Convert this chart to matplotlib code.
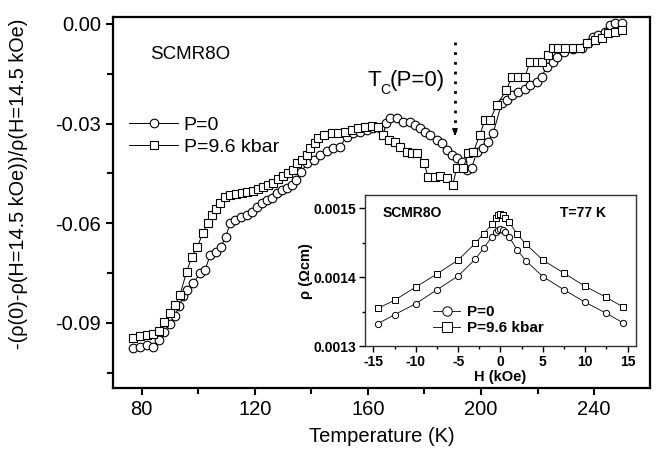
import matplotlib
matplotlib.use("Agg")
import matplotlib.pyplot as plt
from matplotlib.ticker import MultipleLocator

plt.rcParams['font.family'] = ['Liberation Sans', 'DejaVu Sans']
plt.rcParams['axes.unicode_minus'] = False

# main panel: magnetoresistance vs temperature
temp_p0 = [76.8, 79.4, 81.8, 83.9, 86.1, 87.9, 90.0, 91.6, 93.3, 94.6, 96.1, 98.2,
           100.6, 102.4, 104.2, 106.3, 107.9, 109.8, 111.2, 113.0, 115.0, 117.1,
           118.9, 120.7, 122.4, 124.2, 126.0, 127.7, 129.5, 131.3, 133.1, 134.5,
           136.3, 138.6, 140.8, 143.0, 145.4, 147.8, 150.1, 152.5, 154.8, 157.2,
           159.6, 161.9, 164.3, 166.4, 167.8, 170.2, 172.5, 174.9, 176.7, 178.4,
           180.2, 182.0, 184.3, 186.1, 187.9, 189.6, 191.4, 193.2, 195.0, 196.7,
           198.5, 200.8, 202.4, 204.3, 207.3, 209.1, 210.9, 213.2, 215.6, 217.3,
           219.7, 221.5, 223.2, 225.6, 226.8, 229.4, 232.6, 235.6, 238.0, 239.7,
           241.5, 243.9, 245.6, 247.4, 249.8]
mr_p0 = [-0.0977, -0.0972, -0.0967, -0.0972, -0.0950, -0.0927, -0.0902, -0.0880,
         -0.0850, -0.0818, -0.0801, -0.0781, -0.0751, -0.0741, -0.0696, -0.0686,
         -0.0671, -0.0641, -0.0600, -0.0590, -0.0582, -0.0575, -0.0565, -0.0550,
         -0.0540, -0.0530, -0.0525, -0.0510, -0.0500, -0.0495, -0.0485, -0.0470,
         -0.0445, -0.0420, -0.0410, -0.0395, -0.0382, -0.0374, -0.0370, -0.0339,
         -0.0329, -0.0324, -0.0319, -0.0314, -0.0314, -0.0299, -0.0284, -0.0284,
         -0.0294, -0.0294, -0.0304, -0.0314, -0.0324, -0.0334, -0.0349, -0.0359,
         -0.0380, -0.0395, -0.0403, -0.0415, -0.0440, -0.0435, -0.0385, -0.0374,
         -0.0355, -0.0329, -0.0239, -0.0229, -0.0214, -0.0204, -0.0197, -0.0184,
         -0.0174, -0.0159, -0.0129, -0.0114, -0.0098, -0.0083, -0.0076, -0.0073,
         -0.0058, -0.0038, -0.0033, -0.0023, -0.0003, 0.0002, 0.0002]

temp_p96 = [76.8, 79.4, 81.8, 83.9, 86.1, 87.9, 90.0, 91.9, 93.5, 95.9, 97.7, 99.7,
            101.6, 103.4, 104.8, 106.3, 107.7, 109.5, 111.2, 113.4, 115.4, 117.3,
            119.3, 121.2, 123.0, 124.8, 126.5, 128.3, 130.1, 131.8, 133.4, 134.8,
            136.6, 138.4, 139.7, 141.3, 142.5, 144.5, 147.2, 149.5, 151.9, 154.3,
            156.6, 159.0, 161.3, 163.7, 165.2, 167.6, 169.6, 171.4, 173.7, 175.5,
            177.3, 179.8, 181.4, 183.7, 185.5, 187.9, 190.0, 191.4, 193.7, 195.5,
            197.3, 199.6, 201.4, 203.2, 205.6, 209.0, 210.9, 213.2, 215.6, 217.3,
            219.7, 221.5, 223.8, 225.6, 227.3, 229.7, 232.6, 235.0, 237.4, 240.3,
            242.7, 245.0, 247.4, 249.8]
mr_p96 = [-0.0944, -0.0940, -0.0935, -0.0932, -0.0924, -0.0897, -0.0871, -0.0846,
          -0.0816, -0.0746, -0.0701, -0.0671, -0.0630, -0.0598, -0.0575, -0.0558,
          -0.0540, -0.0520, -0.0515, -0.0512, -0.0508, -0.0505, -0.0502, -0.0498,
          -0.0492, -0.0485, -0.0478, -0.0468, -0.0458, -0.0448, -0.0440, -0.0420,
          -0.0410, -0.0395, -0.0374, -0.0359, -0.0344, -0.0335, -0.0329, -0.0327,
          -0.0324, -0.0319, -0.0314, -0.0311, -0.0307, -0.0311, -0.0334, -0.0349,
          -0.0355, -0.0370, -0.0385, -0.0389, -0.0388, -0.0418, -0.0462, -0.0462,
          -0.0458, -0.0465, -0.0485, -0.0435, -0.0435, -0.0389, -0.0385, -0.0334,
          -0.0289, -0.0289, -0.0244, -0.0199, -0.0159, -0.0159, -0.0159, -0.0114,
          -0.0114, -0.0114, -0.0093, -0.0073, -0.0073, -0.0073, -0.0073, -0.0073,
          -0.0058, -0.0048, -0.0043, -0.0028, -0.0023, -0.0018]

# inset: resistivity vs field at 77 K
field = [-14.5, -12.5, -10, -7.5, -5, -3, -2, -1, -0.5, -0.25, 0, 0.25, 0.5,
         1, 2, 3, 5, 7.5, 10, 12.5, 14.5]
rho_p0 = [0.001333, 0.001346, 0.001362, 0.001382, 0.001402, 0.001426, 0.001442,
          0.001459, 0.001466, 0.001469, 0.001470, 0.001469, 0.001466, 0.001459,
          0.001439, 0.001424, 0.001401, 0.001382, 0.001364, 0.001348, 0.001334]
rho_p96 = [0.001355, 0.001367, 0.001386, 0.001405, 0.001425, 0.001449, 0.001463,
           0.001477, 0.001486, 0.001490, 0.001491, 0.001490, 0.001486, 0.001480,
           0.001462, 0.001448, 0.001425, 0.001406, 0.001387, 0.001371, 0.001357]

tc_temp = 190.8

fig = plt.figure(figsize=(6.56, 4.53), dpi=100)
ax = fig.add_axes([0.1723, 0.1435, 0.8186, 0.819])

ax.plot(temp_p0, mr_p0, '-o', color='black', lw=0.7, ms=6.2, mfc='white',
        mew=0.8, label='P=0')
ax.plot(temp_p96, mr_p96, '-s', color='black', lw=0.7, ms=5.8, mfc='white',
        mew=0.8, label='P=9.6 kbar')

ax.set_xlim(69.85, 259.8)
ax.set_ylim(-0.1096, 0.0021)
ax.xaxis.set_major_locator(MultipleLocator(40))
ax.xaxis.set_minor_locator(MultipleLocator(20))
ax.yaxis.set_major_locator(MultipleLocator(0.03))
ax.yaxis.set_minor_locator(MultipleLocator(0.015))
ax.set_yticks([0.0, -0.03, -0.06, -0.09])
ax.set_yticklabels(['0.00', '-0.03', '-0.06', '-0.09'])
ax.tick_params(which='both', direction='out', width=1.5, labelsize=14.5)
ax.tick_params(which='major', length=5)
ax.tick_params(which='minor', length=4)
for s in ax.spines.values():
    s.set_linewidth(1.6)

ax.set_xlabel('Temperature (K)', fontsize=14.5, labelpad=6)
ax.set_ylabel('-(ρ(0)-ρ(H=14.5 kOe))/ρ(H=14.5 kOe)', fontsize=14.3)
ax.yaxis.set_label_coords(-0.158, 0.55)

ax.text(0.069, 0.898, 'SCMR8O', transform=ax.transAxes, fontsize=13.5,
        va='center', ha='left')
# T_C(P=0) built from three pieces so the subscript sits like the original
ax.text(0.473, 0.83, 'T', transform=ax.transAxes, fontsize=16,
        va='center', ha='left')
ax.text(0.4975, 0.802, 'C', transform=ax.transAxes, fontsize=10,
        va='center', ha='left')
ax.text(0.5155, 0.83, '(P=0)', transform=ax.transAxes, fontsize=16,
        va='center', ha='left')

# dotted arrow marking Tc
ax.plot([tc_temp, tc_temp], [-0.0054, -0.0325], color='black', lw=2,
        linestyle=(0, (1, 2.5)))
ax.annotate('', xy=(tc_temp, -0.0345), xytext=(tc_temp, -0.0322),
            arrowprops=dict(arrowstyle='-|>,head_width=0.15,head_length=0.35',
                            color='black', lw=1.2))

ax.legend(loc='upper left', bbox_to_anchor=(0.005, 0.77), frameon=False,
          fontsize=14, handlelength=2.5, handletextpad=0.3, labelspacing=0.25,
          borderaxespad=0.3)

# inset
ins = fig.add_axes([0.5564, 0.2351, 0.4131, 0.3344])
ins.plot(field, rho_p0, '-o', color='black', lw=0.6, ms=4.5, mfc='white',
         mew=0.7, label='P=0')
ins.plot(field, rho_p96, '-s', color='black', lw=0.6, ms=4.5, mfc='white',
         mew=0.7, label='P=9.6 kbar')
ins.set_xlim(-16, 16)
ins.set_ylim(0.0013, 0.001519)
ins.xaxis.set_major_locator(MultipleLocator(5))
ins.xaxis.set_minor_locator(MultipleLocator(2.5))
ins.set_yticks([0.0013, 0.0014, 0.0015])
ins.set_yticklabels(['0.0013', '0.0014', '0.0015'])
ins.yaxis.set_minor_locator(MultipleLocator(0.00005))
ins.tick_params(which='both', direction='out', width=1, labelsize=10, pad=2)
ins.tick_params(which='major', length=4)
ins.tick_params(which='minor', length=2.5)
for lab in ins.get_xticklabels() + ins.get_yticklabels():
    lab.set_fontweight('bold')
for s in ins.spines.values():
    s.set_linewidth(1.0)
    s.set_color('#333333')
ins.set_xlabel('H (kOe)', fontsize=10.5, fontweight='bold', labelpad=1)
ins.set_ylabel('ρ (Ωcm)', fontsize=10.5, fontweight='bold', labelpad=1)
ins.text(0.066, 0.881, 'SCMR8O', transform=ins.transAxes, fontsize=10,
         fontweight='bold', va='center')
ins.text(0.72, 0.881, 'T=77 K', transform=ins.transAxes, fontsize=10,
         fontweight='bold', va='center')
ins.legend(loc='lower left', bbox_to_anchor=(0.2, -0.015), frameon=False,
           prop={'size': 11, 'weight': 'bold'}, handlelength=1.8,
           handletextpad=0.4, labelspacing=0.1, markerscale=1.5)

fig.savefig('out.png', dpi=100)
